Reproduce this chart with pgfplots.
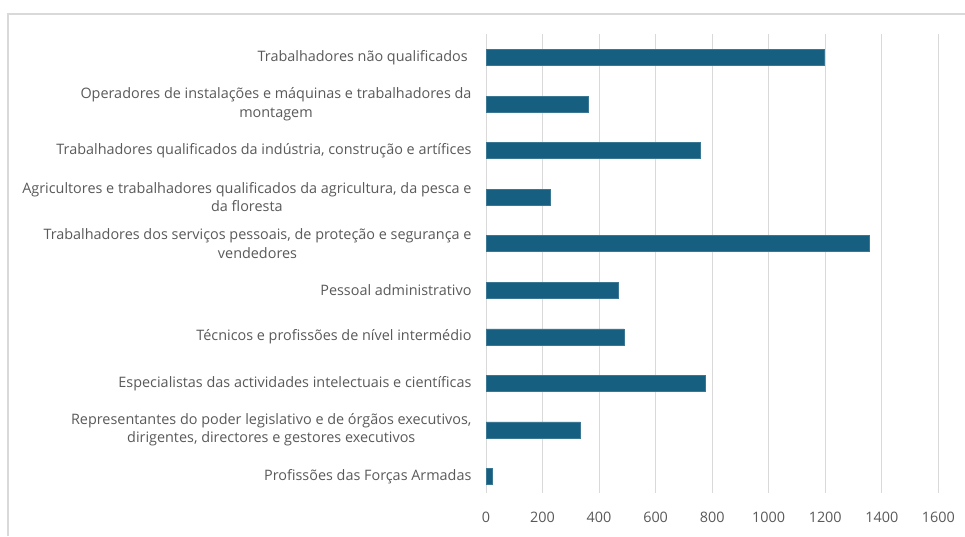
\documentclass[border=0pt]{standalone}
\usepackage{fontspec}
\setmainfont{Open Sans}
\usepackage{pgfplots}
\pgfplotsset{compat=1.18}
\definecolor{barc}{HTML}{175F80}
\definecolor{gridc}{HTML}{D9D9D9}
\definecolor{txt}{HTML}{595959}
\begin{document}
\begin{tikzpicture}[x=1pt,y=1pt]
\path[use as bounding box] (0,0) rectangle (965,536);
\draw[gridc, line width=1.2pt] (8,0) -- (8,522) -- (965,522);
\begin{axis}[
  at={(486pt,43pt)}, anchor=south west,
  scale only axis, width=452.3pt, height=459pt,
  xbar, bar width=16pt,
  xmin=0, xmax=1600, ymin=-0.51, ymax=9.36, y dir=reverse,
  xtick={0,200,...,1600}, ytick={0,...,9},
  yticklabels={
    {Trabalhadores não qualificados\ },
    {Operadores de instalações e máquinas e trabalhadores da\\montagem},
    {Trabalhadores qualificados da indústria, construção e artífices},
    {Agricultores e trabalhadores qualificados da agricultura, da pesca e\\da floresta},
    {Trabalhadores dos serviços pessoais, de proteção e segurança e\\vendedores},
    {Pessoal administrativo},
    {Técnicos e profissões de nível intermédio},
    {Especialistas das actividades intelectuais e científicas},
    {Representantes do poder legislativo e de órgãos executivos,\\dirigentes, directores e gestores executivos},
    {Profissões das Forças Armadas}},
  xmajorgrids, grid style={gridc, line width=1pt},
  axis line style={draw=none}, major tick length=0pt,
  /pgf/number format/assume math mode=true,
  /pgf/number format/set thousands separator={},
  tick label style={font=\fontsize{14.4}{18.5}\selectfont, text=txt},
  yticklabel style={align=center, xshift=-11pt},
  xticklabel style={yshift=-16pt},
]
\addplot[fill=barc, draw=barc!85!white, line width=0.5pt] coordinates {
  (1196,0) (362,1) (757,2) (229,3) (1355,4) (468,5) (489,6) (774,7) (334,8) (22,9)
};
\end{axis}
\end{tikzpicture}
\end{document}
